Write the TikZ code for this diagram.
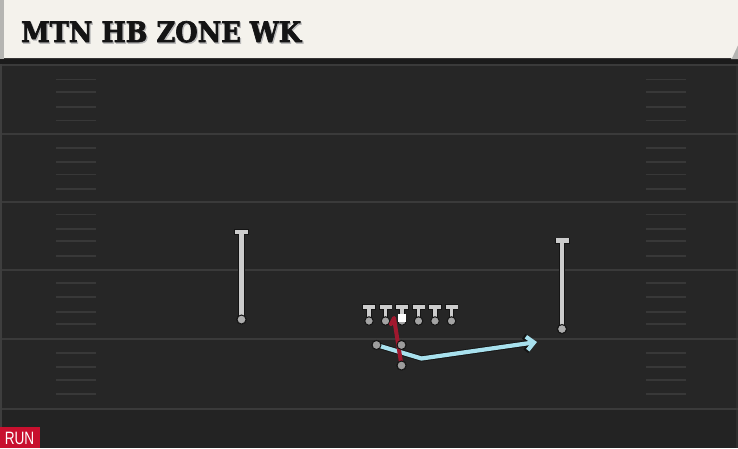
\documentclass[tikz,border=0pt]{standalone}
\usepackage{fontspec}
\newfontfamily\titlefont{DejaVu Serif}[BoldFeatures={FakeBold=2.5}]
\newfontfamily\runfont{Liberation Sans}
\usetikzlibrary{arrows.meta}
\definecolor{fieldbg}{HTML}{262626}
\definecolor{fieldbot}{HTML}{232323}
\definecolor{leftedge}{HTML}{3E3E3E}
\definecolor{rightedge}{HTML}{2E2E2E}
\definecolor{hshadow}{HTML}{1B1B1B}
\definecolor{fieldline}{HTML}{3A3A3A}
\definecolor{hashc}{HTML}{383838}
\definecolor{cream}{HTML}{F4F2EC}
\definecolor{edgegrey}{HTML}{B5B5B2}
\definecolor{plgrey}{HTML}{CCCCCC}
\definecolor{dotgrey}{HTML}{9C9C9C}
\definecolor{outl}{HTML}{141414}
\definecolor{runred}{HTML}{C8102E}
\definecolor{routered}{HTML}{A0182E}
\definecolor{routeblue}{HTML}{A8E1EE}
\tikzset{
  fline/.style={draw=fieldline, line width=2pt},
  hashline/.style={draw=hashc, line width=1.6pt},
  plr/.style={circle, fill=dotgrey, draw=outl, line width=1pt, inner sep=0pt, minimum size=9pt},
  barout/.style={draw=outl, line width=6pt},
  barin/.style={draw=plgrey, line width=4.2pt},
  stemout/.style={draw=outl, line width=6.4pt},
  stemin/.style={draw=plgrey, line width=4.4pt},
  olstemout/.style={draw=outl, line width=5.4pt},
  olstemin/.style={draw=plgrey, line width=3.8pt},
  blueout/.style={draw=outl, line width=6pt, line join=round},
  bluein/.style={draw=routeblue, line width=4.2pt, line join=round},
  redroute/.style={draw=routered, line width=4pt, line cap=round, line join=round},
  ballsq/.style={fill=white, inner sep=0pt, minimum size=8pt}
}
\begin{document}
\begin{tikzpicture}[x=1pt,y=-1pt]
\useasboundingbox (0,0) rectangle (738,448);
% field
\fill[fieldbg] (0,58) rectangle (738,448);
\fill[fieldbot] (0,409) rectangle (738,448);
\fill[leftedge] (0,58) rectangle (2,448);
\fill[rightedge] (736,58) rectangle (738,448);
% header
\fill[hshadow] (0,58) rectangle (738,64);
\fill[edgegrey] (0,0) rectangle (4,59);
\fill[edgegrey] (736,40) -- (738,40) -- (738,59) -- (731,59) -- cycle;
\fill[cream] (4,0) -- (738,0) -- (738,45) -- (732,58) -- (4,58) -- cycle;
\node[anchor=south west, inner sep=0pt, text=gray!55] (titleshadow) at (22.2,44) {\resizebox{280pt}{21pt}{\titlefont\bfseries MTN HB ZONE WK}};
\node[anchor=south west, inner sep=0pt, text=outl] (title) at (21,42.7) {\resizebox{280pt}{21pt}{\titlefont\bfseries MTN HB ZONE WK}};
% yard lines
\foreach \yy in {65,133.5,201.5,270,338.5,408.5} {\draw[fline] (2,\yy) -- (738,\yy);}
% hash marks
\foreach \yy in {79.3,91.7,106.7,120.3,147.7,162,174.3,188.7,214.3,228.7,241,255.7,283,297,311.7,324,353,367,379.7,394} {
  \draw[hashline] (56,\yy) -- (96,\yy);
  \draw[hashline] (646,\yy) -- (686,\yy);
}
% run tag
\fill[runred] (0,427) rectangle (40,448);
\node[anchor=south west, inner sep=0pt, text=white] (runlbl) at (4.6,445) {\resizebox{29.5pt}{12.3pt}{\runfont RUN}};
% defenders (zone drops)
\node[plr, fill=plgrey!85!black] (dl) at (241.5,319.5) {};
\coordinate (dlt) at (241.5,232);
\node[plr, fill=plgrey!85!black] (dr) at (562,329) {};
\coordinate (drt) at (562,240.5);
\foreach \n in {dl,dr} {
  \draw[stemout] (\n.center) -- (\n t);
}
\draw[barout] (234,232) -- (249,232);
\draw[barout] (554.5,240.5) -- (569.5,240.5);
\foreach \n in {dl,dr} {
  \draw[stemin] (\n.center) -- (\n t);
}
\draw[barin] (235,232) -- (248,232);
\draw[barin] (555.5,240.5) -- (568.5,240.5);
\node[plr, fill=plgrey!85!black] at (dl.center) {};
\node[plr, fill=plgrey!85!black] at (dr.center) {};
% offensive line
\foreach \i/\xx in {1/369,2/385.5,3/402,4/418.5,5/435,6/451.5} {
  \coordinate (olt\i) at (\xx,307);
  \draw[olstemout] (\xx,321) -- (olt\i);
  \draw[barout] (\xx-6.8,307) -- (\xx+6.8,307);
  \draw[olstemin] (\xx,321) -- (olt\i);
  \draw[barin] (\xx-6,307) -- (\xx+6,307);
  \node[plr, fill=plgrey!80!black, minimum size=8.5pt] (ol\i) at (\xx,321) {};
}
% backfield
\node[plr] (hb) at (376.5,345) {};
\node[plr] (fb) at (401.5,345) {};
\node[plr] (qb) at (401.5,365.5) {};
\coordinate (bend) at (421.5,358.5);
\coordinate (bluetip) at (537,342);
\coordinate (redtop) at (394,318);
\coordinate (redflag) at (391,324);
% blue route
\draw[blueout, -{Straight Barb[length=8pt,width=15pt]}] (hb.center) -- (bend) -- (bluetip);
\draw[bluein, -{Straight Barb[length=7.2pt,width=13.5pt]}] (hb.center) -- (bend) -- (bluetip);
% red route
\draw[redroute] (qb.center) -- (redtop) -- (redflag);
\node[plr] at (hb.center) {};
\node[plr] at (fb.center) {};
\node[plr] at (qb.center) {};
% ball
\node[ballsq] (ball) at (402,318) {};
\end{tikzpicture}
\end{document}
